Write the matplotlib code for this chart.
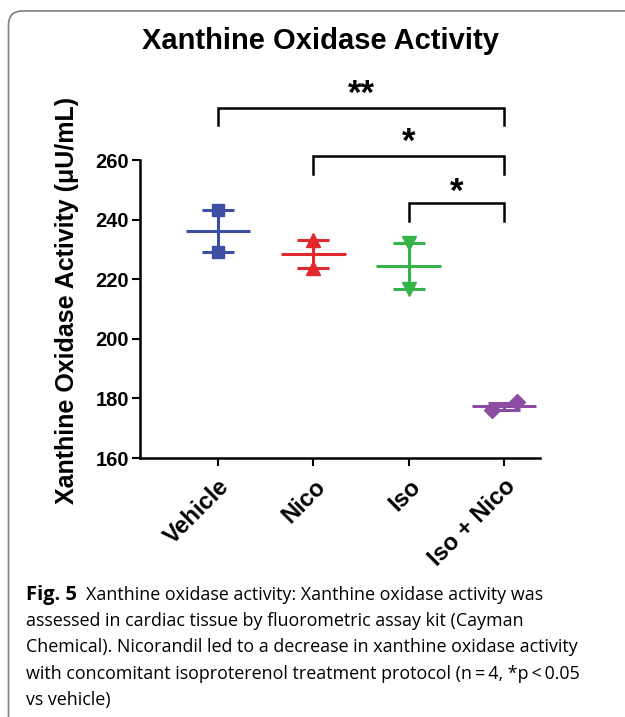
import matplotlib
matplotlib.use('Agg')
import matplotlib.pyplot as plt
from matplotlib.patches import FancyBboxPatch
from matplotlib.transforms import IdentityTransform

plt.rcParams['font.family'] = ['Liberation Sans', 'DejaVu Sans']
plt.rcParams['font.weight'] = 'bold'

# data
groups = ['Vehicle', 'Nico', 'Iso', 'Iso + Nico']
vehicle = [243.2, 229.2]
nico = [233.2, 223.7]
iso = [232.3, 216.8]
iso_nico = [176.1, 178.8]
means = [236.2, 228.5, 224.4, 177.4]
sems = [7.0, 4.8, 7.6, 1.2]
jitter = [[0, 0], [0, 0], [0, 0], [-0.13, 0.14]]
yticks = [160, 180, 200, 220, 240, 260]
# significance brackets: (from group, to group, stars)
sig_pairs = [(0, 3, '**'), (1, 3, '*'), (2, 3, '*')]

colors = ['#3d4fa5', '#e0282d', '#36b449', '#8b4ca2']
markers = ['s', '^', 'v', 'D']
msizes = [9, 10, 10, 8]

caption_lines = [
    'Xanthine oxidase activity: Xanthine oxidase activity was',
    'assessed in cardiac tissue by fluorometric assay kit (Cayman',
    'Chemical). Nicorandil led to a decrease in xanthine oxidase activity',
    'with concomitant isoproterenol treatment protocol (n\u2009=\u20094, *p\u2009<\u20090.05',
    'vs vehicle)',
]

fig = plt.figure(figsize=(6.25, 7.17), dpi=100)
ax = fig.add_axes([140 / 625, 1 - 458 / 717, 400 / 625, 298 / 717])

all_pts = [vehicle, nico, iso, iso_nico]
for i, pts in enumerate(all_pts):
    xs = [i + j for j in jitter[i]]
    ax.plot(xs, pts, linestyle='none', marker=markers[i], color=colors[i],
            markersize=msizes[i], zorder=3, clip_on=False)
    ax.errorbar(i, means[i], yerr=sems[i], fmt='none', ecolor=colors[i],
                elinewidth=2.2, capsize=11.5, capthick=2.2, zorder=4, clip_on=False)
    ax.plot([i - 0.34, i + 0.34], [means[i], means[i]], color=colors[i],
            linewidth=2.2, zorder=4, solid_capstyle='butt', clip_on=False)

ax.set_xlim(-0.818, 3.378)
ax.set_ylim(160, 260)
ax.set_yticks(yticks)
ax.set_xticks(range(len(groups)))
ax.set_xticklabels(groups, rotation=45, ha='right', va='top', rotation_mode='anchor',
                   fontsize=17, fontweight='bold')
for lab in ax.get_yticklabels():
    lab.set_fontsize(14.5)
    lab.set_fontweight('bold')

for side in ['top', 'right']:
    ax.spines[side].set_visible(False)
for side in ['left', 'bottom']:
    ax.spines[side].set_linewidth(1.8)
ax.tick_params(axis='both', direction='out', length=6, width=1.5, pad=2)
ax.tick_params(axis='x', pad=6)

ax.set_ylabel('Xanthine Oxidase Activity (\u03bcU/mL)', fontsize=18, fontweight='bold')
ax.yaxis.label.set_va('center')
ax.yaxis.set_label_coords(-0.183, 0.53)

# significance brackets
bracket_top = [277.6, 261.3, 245.6]
bracket_drop = 6.0
star_gap = [-1.0, -1.0, -1.9]
for (a, b, stars), yt, g in zip(sig_pairs, bracket_top, star_gap):
    ax.plot([a, a, b, b], [yt - bracket_drop, yt, yt, yt - bracket_drop], color='black',
            linewidth=1.8, clip_on=False, solid_joinstyle='miter')
    ax.text((a + b) / 2, yt + g, stars, ha='center', va='bottom', fontsize=25,
            fontweight='bold', clip_on=False)

fig.text(320 / 625, 1 - 41 / 717, 'Xanthine Oxidase Activity', ha='center', va='center',
         fontsize=21, fontweight='bold')

# frame around the figure panel
frame = FancyBboxPatch((8.5, -40), 700, 717 - 11 + 40, boxstyle='round,pad=0,rounding_size=14',
                       transform=IdentityTransform(), facecolor='none', edgecolor='#7f7f7f',
                       linewidth=1.2)
fig.add_artist(frame)

# caption
cap_font = ['Open Sans', 'DejaVu Sans']
line_y = [595, 621, 647.5, 674, 700]
fig.canvas.draw()
r = fig.canvas.get_renderer()
bold = fig.text(26 / 625, 1 - line_y[0] / 717, 'Fig. 5', ha='left', va='center', fontsize=14.5,
                fontweight='bold', family=cap_font)
bw = bold.get_window_extent(renderer=r).width
for k, line in enumerate(caption_lines):
    x0 = 26 if k > 0 else 26 + bw + 9
    fig.text(x0 / 625, 1 - line_y[k] / 717, line, ha='left', va='center', fontsize=12.9,
             fontweight='normal', family=cap_font)

fig.savefig('out.png', dpi=100)
